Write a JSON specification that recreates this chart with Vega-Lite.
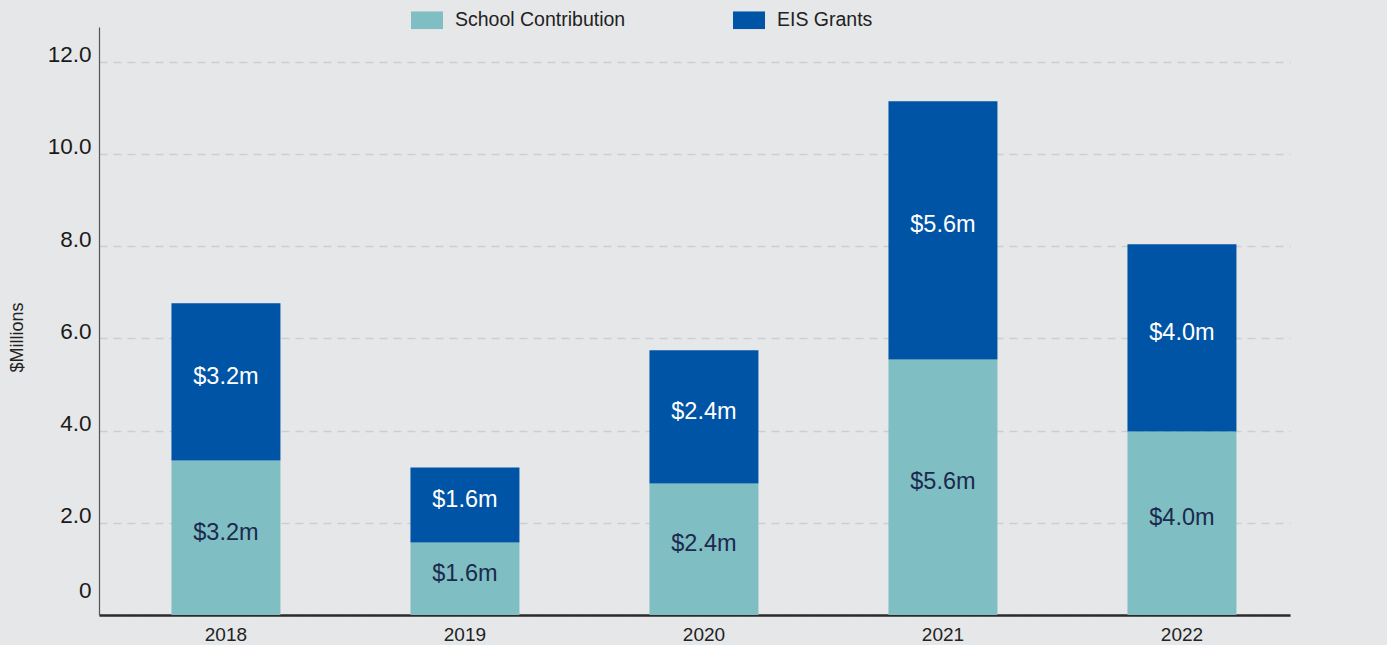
{
  "$schema": "https://vega.github.io/schema/vega-lite/v6.json",
  "width": 1191,
  "height": 588,
  "autosize": {"type": "none"},
  "padding": {"left": 99, "top": 27, "right": 97, "bottom": 30},
  "background": "#e6e7e9",
  "config": {"view": {"stroke": null}, "font": "Liberation Sans"},
  "data": {
    "values": [
      {"year": "2018", "series": "School Contribution", "order": 1, "value": 3.35, "label": "$3.2m"},
      {"year": "2018", "series": "EIS Grants", "order": 2, "value": 3.41, "label": "$3.2m"},
      {"year": "2019", "series": "School Contribution", "order": 1, "value": 1.57, "label": "$1.6m"},
      {"year": "2019", "series": "EIS Grants", "order": 2, "value": 1.63, "label": "$1.6m"},
      {"year": "2020", "series": "School Contribution", "order": 1, "value": 2.85, "label": "$2.4m"},
      {"year": "2020", "series": "EIS Grants", "order": 2, "value": 2.89, "label": "$2.4m"},
      {"year": "2021", "series": "School Contribution", "order": 1, "value": 5.54, "label": "$5.6m"},
      {"year": "2021", "series": "EIS Grants", "order": 2, "value": 5.60, "label": "$5.6m"},
      {"year": "2022", "series": "School Contribution", "order": 1, "value": 3.98, "label": "$4.0m"},
      {"year": "2022", "series": "EIS Grants", "order": 2, "value": 4.06, "label": "$4.0m"}
    ]
  },
  "encoding": {
    "x": {
      "field": "year",
      "type": "nominal",
      "scale": {"paddingInner": 0.544, "paddingOuter": 0.2636, "align": 0.575},
      "axis": {
        "title": null,
        "labelAngle": 0,
        "labelFontSize": 19,
        "labelColor": "#222222",
        "ticks": false,
        "labelPadding": 10,
        "domainColor": "#2b2b2b",
        "domainWidth": 2.5,
        "grid": false
      }
    }
  },
  "layer": [
    {
      "mark": {"type": "bar"},
      "encoding": {
        "y": {
          "field": "value",
          "type": "quantitative",
          "stack": "zero",
          "scale": {"domain": [0, 12.75], "nice": false},
          "axis": {
            "values": [0, 2, 4, 6, 8, 10, 12],
            "labelExpr": "datum.value == 0 ? '0' : format(datum.value, '.1f')",
            "grid": true,
            "gridDash": [8, 6],
            "gridColor": "#cdced0",
            "gridWidth": 1.5,
            "domainColor": "#555555",
            "domainWidth": 1.2,
            "ticks": false,
            "labelPadding": 8,
            "labelFontSize": 22.5,
            "labelColor": "#1a1a1a",
            "labelBaseline": "alphabetic",
            "labelOffset": {"condition": {"test": "datum.value == 0", "value": -18}, "value": 0},
            "title": "$Millions",
            "titleFontSize": 18,
            "titleFontWeight": "normal",
            "titleColor": "#222222",
            "titleX": -82,
            "titleY": 310,
            "titleAlign": "center",
            "titleBaseline": "middle"
          }
        },
        "color": {
          "field": "series",
          "type": "nominal",
          "scale": {"domain": ["School Contribution", "EIS Grants"], "range": ["#7fbfc4", "#0054a6"]},
          "legend": {
            "orient": "none",
            "legendX": 312,
            "legendY": -23,
            "direction": "horizontal",
            "title": null,
            "symbolType": "M-1,-0.55H1V0.55H-1Z",
            "symbolSize": 1024,
            "symbolStrokeWidth": 0,
            "symbolOpacity": 1,
            "labelFontSize": 19.5,
            "labelLimit": 400,
            "labelColor": "#222222",
            "labelOffset": 12,
            "columnPadding": 107,
            "padding": 0
          }
        },
        "order": {"field": "order", "type": "quantitative"}
      }
    },
    {
      "transform": [
        {"stack": "value", "groupby": ["year"], "sort": [{"field": "order"}], "as": ["v0", "v1"]},
        {"fold": ["v0", "v1"], "as": ["k", "pos"]}
      ],
      "mark": {"type": "text", "fontSize": 23.5, "baseline": "middle", "dy": -5},
      "encoding": {
        "y": {"aggregate": "mean", "field": "pos", "type": "quantitative"},
        "detail": {"field": "series"},
        "text": {"field": "label", "type": "nominal"},
        "color": {
          "condition": {"test": "datum.series == 'EIS Grants'", "value": "#ffffff"},
          "value": "#1c2a4d"
        }
      }
    }
  ]
}
